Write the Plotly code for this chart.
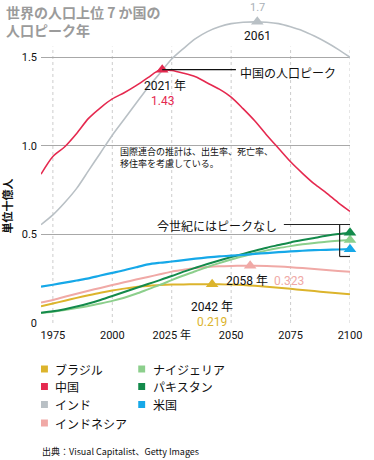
import plotly.graph_objects as go

# ---------------- data ----------------
years = [1970, 1975, 1980, 1985, 1990, 1995, 2000, 2005, 2010, 2015, 2020, 2025, 2030,
         2035, 2040, 2045, 2050, 2055, 2060, 2065, 2070, 2075, 2080, 2085, 2090, 2095, 2100]

china = [0.84, 0.94, 0.995, 1.07, 1.155, 1.215, 1.265, 1.30, 1.34, 1.385, 1.428, 1.425, 1.41,
         1.39, 1.355, 1.32, 1.275, 1.21, 1.14, 1.06, 0.985, 0.91, 0.845, 0.785, 0.735, 0.68, 0.63]
india = [0.555, 0.61, 0.68, 0.76, 0.86, 0.96, 1.06, 1.15, 1.24, 1.33, 1.41, 1.49, 1.55,
         1.605, 1.645, 1.672, 1.69, 1.698, 1.70, 1.698, 1.69, 1.672, 1.65, 1.62, 1.585, 1.545, 1.50]
usa = [0.205, 0.216, 0.228, 0.24, 0.252, 0.268, 0.283, 0.298, 0.315, 0.331, 0.34, 0.347, 0.355,
       0.363, 0.37, 0.376, 0.38, 0.385, 0.39, 0.395, 0.40, 0.404, 0.408, 0.411, 0.413, 0.415, 0.417]
indonesia = [0.115, 0.13, 0.148, 0.165, 0.182, 0.198, 0.214, 0.23, 0.245, 0.26, 0.275, 0.29, 0.30,
             0.31, 0.316, 0.32, 0.322, 0.323, 0.323, 0.322, 0.319, 0.315, 0.31, 0.305, 0.299, 0.294, 0.289]
brazil = [0.095, 0.11, 0.126, 0.142, 0.157, 0.171, 0.183, 0.194, 0.203, 0.209, 0.214, 0.217, 0.218,
          0.219, 0.219, 0.219, 0.217, 0.214, 0.21, 0.205, 0.199, 0.193, 0.186, 0.18, 0.174, 0.168, 0.162]
pakistan = [0.058, 0.066, 0.078, 0.093, 0.11, 0.13, 0.152, 0.175, 0.198, 0.22, 0.242, 0.265, 0.29,
            0.312, 0.333, 0.353, 0.372, 0.39, 0.408, 0.425, 0.44, 0.455, 0.468, 0.48, 0.492, 0.502, 0.51]
nigeria = [0.056, 0.063, 0.073, 0.084, 0.096, 0.11, 0.125, 0.143, 0.165, 0.19, 0.215, 0.242, 0.268,
           0.292, 0.316, 0.338, 0.358, 0.377, 0.394, 0.41, 0.423, 0.434, 0.444, 0.452, 0.459, 0.464, 0.468]

# peaks
peak_years = {"india": 2061, "china": 2021, "indonesia": 2058, "brazil": 2042}
peak_values = {"india": 1.70, "china": 1.43, "indonesia": 0.323, "brazil": 0.219}

xtick_vals = [1975, 2000, 2025, 2050, 2075, 2100]
xtick_text = ["1975", "2000", "2025 年", "2050", "2075", "2100"]
ytick_vals = [0, 0.5, 1.0, 1.5]
ytick_text = ["0", "0.5", "1.0", "1.5"]

legend_col1 = ["ブラジル", "中国", "インド", "インドネシア"]
legend_col2 = ["ナイジェリア", "パキスタン", "米国"]

C = {
    "brazil": "#dcb42c", "china": "#e5294f", "india": "#b9c0c5", "indonesia": "#f0a9a6",
    "nigeria": "#8ccf8c", "pakistan": "#138a4b", "usa": "#16a8e8",
}

FONT = "Roboto, 'Noto Sans CJK JP', sans-serif"
JP = "'Noto Sans CJK JP', sans-serif"

W, H = 374, 460
L, R, T, B = 41, 20, 13, 137
PW, PH = W - L - R, H - T - B


def P(px, py):
    return (px - L) / PW, (H - B - py) / PH


fig = go.Figure()

series = [
    ("india", india, 1.6), ("china", china, 1.6), ("indonesia", indonesia, 2),
    ("brazil", brazil, 2), ("nigeria", nigeria, 2), ("pakistan", pakistan, 2), ("usa", usa, 2.2),
]
for key, vals, w in series:
    fig.add_trace(go.Scatter(x=years, y=vals, mode="lines",
                             line=dict(color=C[key], width=w, shape="spline", smoothing=0.8),
                             showlegend=False, hoverinfo="skip"))

# peak triangles
for key in ["india", "china", "indonesia", "brazil"]:
    fig.add_trace(go.Scatter(x=[peak_years[key]], y=[peak_values[key]], mode="markers",
                             marker=dict(symbol="triangle-up", size=11, color=C[key]),
                             showlegend=False, cliponaxis=False, hoverinfo="skip"))
# no-peak triangles at 2100
for key, vals in [("usa", usa), ("nigeria", nigeria), ("pakistan", pakistan)]:
    fig.add_trace(go.Scatter(x=[years[-1]], y=[vals[-1]], mode="markers",
                             marker=dict(symbol="triangle-up", size=11, color=C[key]),
                             showlegend=False, cliponaxis=False, hoverinfo="skip"))

shapes = []
# vertical dotted grid
for xv in xtick_vals:
    shapes.append(dict(type="line", xref="x", yref="y", x0=xv, x1=xv, y0=0, y1=1.56,
                       line=dict(color="#cccccc", width=1, dash="dot"), layer="below"))
# China callout line
shapes.append(dict(type="line", xref="x", yref="y", x0=2021, x1=2052, y0=1.43, y1=1.43,
                   line=dict(color="#111", width=1.2)))
# no-peak bracket
x0p, _ = P(287, 0)
x1p, _ = P(354, 0)
xbp, _ = P(343.5, 0)
_, ytp = P(0, 224.5)
_, ybp = P(0, 256.5)
shapes.append(dict(type="line", xref="paper", yref="paper", x0=x0p, x1=x1p, y0=ytp, y1=ytp, line=dict(color="#222", width=1.2)))
shapes.append(dict(type="line", xref="paper", yref="paper", x0=xbp, x1=xbp, y0=ytp, y1=ybp, line=dict(color="#222", width=1.2)))
shapes.append(dict(type="line", xref="paper", yref="paper", x0=xbp, x1=x1p, y0=ybp, y1=ybp, line=dict(color="#222", width=1.2)))

ann = []


def text(px, py, s, size=11, color="#111", xanchor="center", family=FONT, **kw):
    x, y = P(px, py)
    ann.append(dict(x=x, y=y, xref="paper", yref="paper", text=s, showarrow=False,
                    xanchor=xanchor, yanchor="middle", font=dict(size=size, color=color, family=family), **kw))


def dtext(xv, yv, s, dx=0, dy=0, size=12, color="#111"):
    ann.append(dict(x=xv, y=yv, xref="x", yref="y", text=s, showarrow=False, xshift=dx, yshift=dy,
                    font=dict(size=size, color=color, family=FONT)))


# title
text(4, 21, "<b>世界の人口上位 7 か国の<br>人口ピーク年</b>", size=14, color="#9b9b9b", xanchor="left", family=JP, align="left")
# peak labels
dtext(peak_years["india"], peak_values["india"], "1.7", dy=14, size=11, color="#a9b0b6")
dtext(peak_years["india"], peak_values["india"], "2061", dy=-14, size=12)
dtext(peak_years["china"], peak_values["china"], "2021 年", dy=-16, dx=3, size=12)
dtext(peak_years["china"], peak_values["china"], "1.43", dy=-31, size=12, color=C["china"])
dtext(peak_years["indonesia"], peak_values["indonesia"], "2058 年", dy=-15, dx=-3, size=12)
dtext(peak_years["indonesia"], peak_values["indonesia"], "0.323", dy=-15, dx=39, size=12, color=C["indonesia"])
dtext(peak_years["brazil"], peak_values["brazil"], "2042 年", dy=-23, size=12)
dtext(peak_years["brazil"], peak_values["brazil"], "0.219", dy=-38, size=12, color=C["brazil"])

text(241, 72, "中国の人口ピーク", size=12, xanchor="left", family=JP)
text(282, 225, "今世紀にはピークなし", size=12, xanchor="right", family=JP)
text(119, 157, "国際連合の推計は、出生率、死亡率、<br>移住率を考慮している。", size=9, xanchor="left", family=JP, align="left")

# y title
text(7, 206, "<b>単位十億人</b>", size=11, family=JP, textangle=-90)

# legend
rows_y = [369, 386.5, 404.5, 423]
for i, name in enumerate(legend_col1):
    key = ["brazil", "china", "india", "indonesia"][i]
    x0, y0 = P(41, rows_y[i] - 3.5)
    x1, y1 = P(48, rows_y[i] + 3.5)
    shapes.append(dict(type="rect", xref="paper", yref="paper", x0=x0, x1=x1, y0=y0, y1=y1,
                       fillcolor=C[key], line=dict(width=0)))
    text(54, rows_y[i], name, size=12, xanchor="left", family=JP, borderpad=0)
for i, name in enumerate(legend_col2):
    key = ["nigeria", "pakistan", "usa"][i]
    x0, y0 = P(139.5, rows_y[i] - 3.5)
    x1, y1 = P(146.5, rows_y[i] + 3.5)
    shapes.append(dict(type="rect", xref="paper", yref="paper", x0=x0, x1=x1, y0=y0, y1=y1,
                       fillcolor=C[key], line=dict(width=0)))
    text(153, rows_y[i], name, size=12, xanchor="left", family=JP, borderpad=0)

# source
text(40, 451, "出典：Visual Capitalist、Getty Images", size=9, xanchor="left", family=JP)

fig.update_layout(
    width=W, height=H, margin=dict(l=L, r=R, t=T, b=B),
    paper_bgcolor="white", plot_bgcolor="white",
    shapes=shapes, annotations=ann, showlegend=False,
    font=dict(family=FONT, color="#111"),
    xaxis=dict(range=[1970, 2100], tickvals=xtick_vals, ticktext=xtick_text, showgrid=False,
               zeroline=False, showline=False, ticks="", tickfont=dict(size=11, color="#111"), ticklabelstandoff=4),
    yaxis=dict(range=[0, 1.75], tickvals=ytick_vals, ticktext=ytick_text, showgrid=True,
               gridcolor="#a8a8a8", gridwidth=1, zeroline=False, showline=False, ticks="",
               tickfont=dict(size=11, color="#111"), ticklabelstandoff=3),
)

fig.write_html("out.html", config={"displayModeBar": False},
               post_script="document.body.style.margin='0';document.body.style.overflow='hidden';")
